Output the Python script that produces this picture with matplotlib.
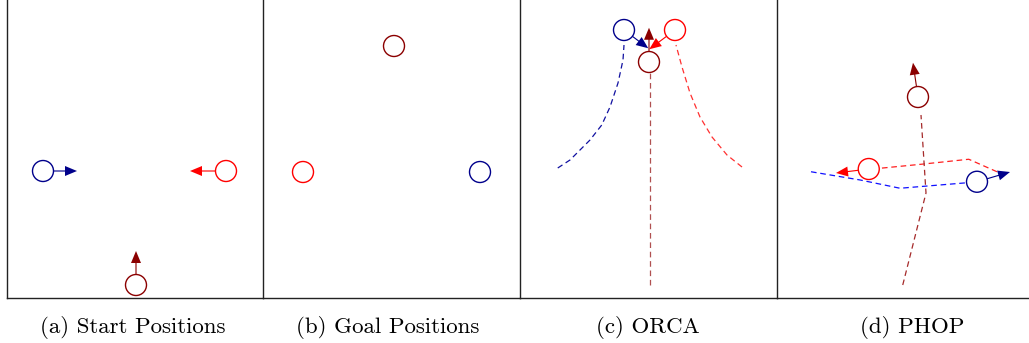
import matplotlib
matplotlib.use('Agg')
import matplotlib.pyplot as plt
from matplotlib.patches import Circle
import numpy as np

# ---------------------------
# Scene data (world units, 1 unit ~ one agent diameter / 0.84)
# ---------------------------
radius = 0.42

captions = ['(a) Start Positions', '(b) Goal Positions', '(c) ORCA', '(d) PHOP']

# start positions and initial headings
start_blue = (-3.72, 0.0)
start_red = (3.6, 0.0)
start_dark = (0.0, -4.56)
start_vel_blue = (1.36, 0.0)
start_vel_red = (-1.44, 0.0)
start_vel_dark = (0.0, 1.36)

# goal positions
goal_dark = (0.08, 5.0)
goal_red = (-3.56, -0.04)
goal_blue = (3.52, -0.04)

# ORCA: current states and trajectories
orca_blue = (-1.0, 5.64)
orca_red = (1.04, 5.64)
orca_dark = (0.0, 4.36)
orca_vel_blue = (0.97, -0.73)
orca_vel_red = (-1.03, -0.77)
orca_vel_dark = (0.0, 1.37)
orca_path_blue_x = [-3.65, -3.16, -2.36, -1.89, -1.56, -1.24, -1.04, -1.0]
orca_path_blue_y = [0.12, 0.44, 1.24, 1.84, 2.56, 3.52, 4.44, 5.04]
orca_path_red_x = [3.72, 3.12, 2.52, 2.04, 1.64, 1.32, 1.08]
orca_path_red_y = [0.16, 0.64, 1.36, 2.16, 3.12, 4.16, 5.04]
orca_path_dark_x = [0.04, 0.04]
orca_path_dark_y = [-4.56, 3.92]

# PHOP: current states and trajectories
phop_blue = (2.84, -0.43)
phop_red = (-1.49, 0.08)
phop_dark = (0.48, 2.96)
phop_vel_blue = (1.32, 0.39)
phop_vel_red = (-1.31, -0.16)
phop_vel_dark = (-0.2, 1.37)
phop_path_blue_x = [-3.8, -1.83, -0.24, 2.44]
phop_path_blue_y = [-0.03, -0.36, -0.69, -0.47]
phop_path_red_x = [3.64, 2.51, 0.71, -1.03]
phop_path_red_y = [-0.03, 0.47, 0.28, 0.11]
phop_path_dark_x = [-0.13, 0.8, 0.6]
phop_path_dark_y = [-4.56, -0.88, 2.24]

BLUE = '#00008b'
RED = '#ff0000'
DARK = '#8b0000'


def draw_agent(ax, pos, color, vel=None):
    ax.add_patch(Circle(pos, radius, fill=False, edgecolor=color, lw=1.0))
    if vel is not None:
        v = np.array(vel)
        u = v / np.linalg.norm(v)
        start = np.array(pos) + u * radius
        d = np.array(pos) + v - start
        ax.arrow(start[0], start[1], d[0], d[1], width=0.045, head_width=0.4,
                 head_length=0.48, length_includes_head=True, color=color, lw=0)


def draw_path(ax, xs, ys, color):
    ax.plot(xs, ys, color=color, lw=0.9, dashes=(4.5, 3))


# ---------------------------
# Figure layout: four panels side by side
# ---------------------------
W, H = 1029, 343
fig = plt.figure(figsize=(W / 100, H / 100), dpi=100)

panel_left = [7, 263, 520, 777]
panel_width = [256, 257, 257, 252]
panel_bottom = 298
caption_x = [133, 388, 648, 912]

axes = []
for left, width in zip(panel_left, panel_width):
    ax = fig.add_axes([left / W, (H - panel_bottom) / H, width / W, panel_bottom / H])
    ax.set_xlim(-5.16, -5.16 + width / 25)
    ax.set_ylim(-5.08, -5.08 + panel_bottom / 25)
    ax.set_xticks([])
    ax.set_yticks([])
    ax.spines['top'].set_visible(False)
    ax.spines['right'].set_visible(False)
    for side in ['left', 'bottom']:
        ax.spines[side].set_linewidth(1.0)
        ax.spines[side].set_color('#222222')
    axes.append(ax)

ax_a, ax_b, ax_c, ax_d = axes

# (a) start positions
draw_agent(ax_a, start_blue, BLUE, start_vel_blue)
draw_agent(ax_a, start_red, RED, start_vel_red)
draw_agent(ax_a, start_dark, DARK, start_vel_dark)

# (b) goal positions
draw_agent(ax_b, goal_dark, DARK)
draw_agent(ax_b, goal_red, RED)
draw_agent(ax_b, goal_blue, BLUE)

# (c) ORCA
draw_path(ax_c, orca_path_blue_x, orca_path_blue_y, '#1010a0')
draw_path(ax_c, orca_path_red_x, orca_path_red_y, '#ff3030')
draw_path(ax_c, orca_path_dark_x, orca_path_dark_y, '#b05050')
draw_agent(ax_c, orca_blue, BLUE, orca_vel_blue)
draw_agent(ax_c, orca_red, RED, orca_vel_red)
draw_agent(ax_c, orca_dark, DARK, orca_vel_dark)

# (d) PHOP
draw_path(ax_d, phop_path_blue_x, phop_path_blue_y, '#1010ff')
draw_path(ax_d, phop_path_red_x, phop_path_red_y, '#ff2020')
draw_path(ax_d, phop_path_dark_x, phop_path_dark_y, '#a52a2a')
draw_agent(ax_d, phop_blue, BLUE, phop_vel_blue)
draw_agent(ax_d, phop_red, RED, phop_vel_red)
draw_agent(ax_d, phop_dark, DARK, phop_vel_dark)

for cx, text in zip(caption_x, captions):
    fig.text(cx / W, 10 / H, text, ha='center', va='baseline',
             fontfamily='cmr10', fontsize=16.5)

plt.savefig('out.png', dpi=100)
